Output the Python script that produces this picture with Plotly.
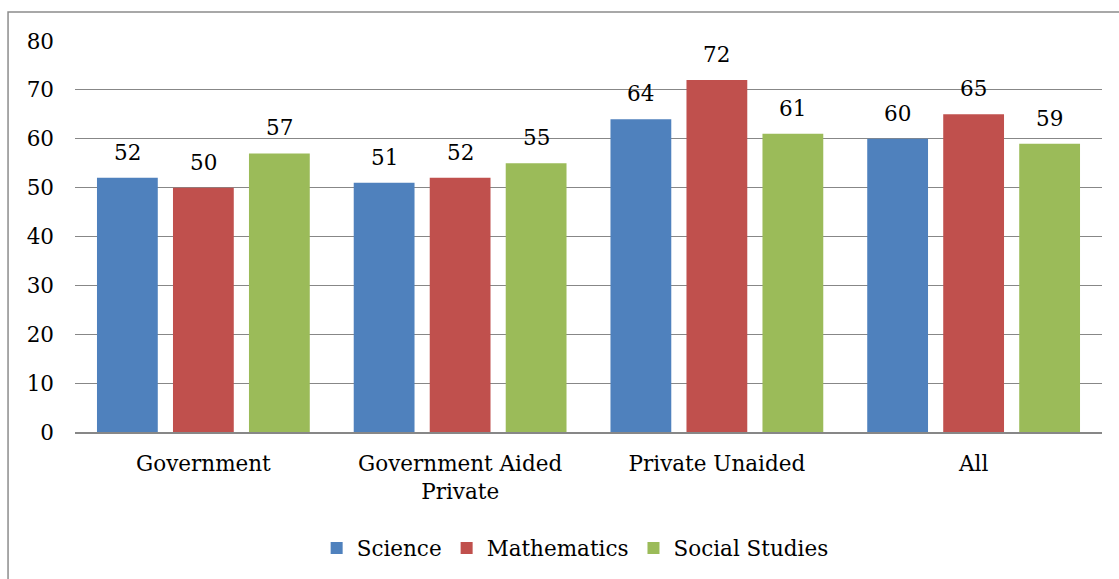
import plotly.graph_objects as go

categories = ["Government", "Government Aided<br>Private", "Private Unaided", "All"]
science = [52, 51, 64, 60]
mathematics = [50, 52, 72, 65]
social_studies = [57, 55, 61, 59]

series = [
    ("Science", science, "#4F81BD"),
    ("Mathematics", mathematics, "#C0504D"),
    ("Social Studies", social_studies, "#9BBB59"),
]

FONT = "DejaVu Serif"
SIZE = 21.5
BARGAP = 0.112
BARGROUPGAP = 0.2

fig = go.Figure()
for name, vals, color in series:
    fig.add_trace(go.Bar(
        name=name, x=categories, y=vals,
        marker=dict(color=color, line=dict(width=0)),
    ))

# value labels above each bar, placed at the bar's slot within its group
slot = (1 - BARGAP) / len(series)
annotations = []
for k, (name, vals, color) in enumerate(series):
    offset = (k - (len(series) - 1) / 2) * slot
    for i, v in enumerate(vals):
        annotations.append(dict(
            x=i + offset, y=v, xref="x", yref="y",
            text=str(v), showarrow=False, yanchor="bottom",
            yshift=11, font=dict(family=FONT, size=SIZE, color="black"),
        ))

fig.update_layout(
    width=1119, height=579,
    margin=dict(l=75, r=17, t=41, b=147, autoexpand=False),
    paper_bgcolor="white", plot_bgcolor="white",
    barmode="group", bargap=BARGAP, bargroupgap=BARGROUPGAP,
    font=dict(family=FONT, size=SIZE, color="black"),
    showlegend=True,
    legend=dict(orientation="h", x=0.487, xanchor="center", y=-0.297, yanchor="middle",
                font=dict(family=FONT, size=SIZE), itemwidth=30, traceorder="normal"),
    annotations=annotations,
    shapes=[dict(type="rect", xref="paper", yref="paper",
                 x0=-0.0652, x1=1.1, y0=-0.5, y1=1.0742,
                 line=dict(color="#8C8C8C", width=1.5), layer="below")],
)
fig.update_yaxes(range=[0, 80], dtick=10, showgrid=True, gridcolor="#878787", gridwidth=1.3,
                 zeroline=False, showline=False, ticks="", ticklabelstandoff=20,
                 tickfont=dict(family=FONT, size=SIZE))
fig.update_xaxes(showline=True, linecolor="#878787", linewidth=1.5, ticks="",
                 tickfont=dict(family=FONT, size=SIZE), ticklabelstandoff=11)

fig.write_html("out.html")
